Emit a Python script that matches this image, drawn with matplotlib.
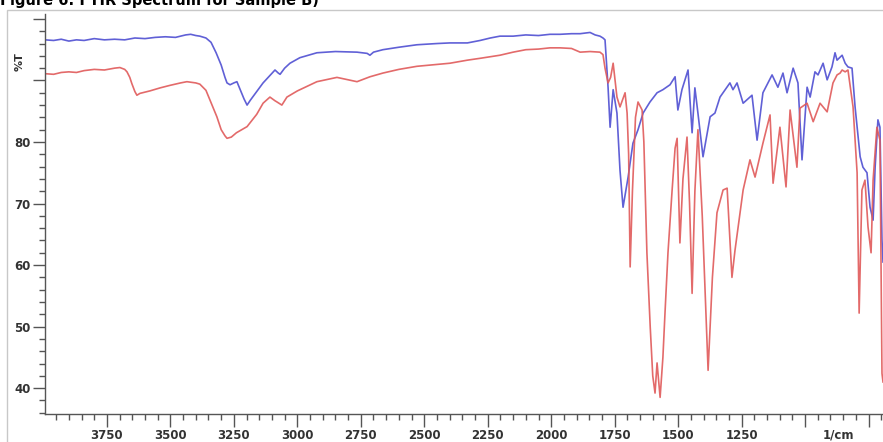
import matplotlib.pyplot as plt
from matplotlib.patches import Rectangle
from matplotlib.ticker import MultipleLocator, FixedLocator, FuncFormatter
import matplotlib.transforms as mtransforms

# blue spectrum (wavenumber 1/cm, %T)
blue_wn = [3994, 3960, 3930, 3900, 3870, 3840, 3800, 3760, 3720, 3680, 3640, 3600,
           3560, 3520, 3480, 3440, 3420, 3400, 3384, 3360, 3340, 3320, 3300, 3285,
           3277, 3265, 3250, 3238, 3225, 3210, 3198, 3185, 3160, 3135, 3108, 3088,
           3075, 3068, 3050, 3029, 2990, 2923, 2850, 2765, 2725, 2714, 2700, 2663,
           2600, 2529, 2450, 2399, 2330, 2280, 2240, 2202, 2150, 2100, 2050, 2005,
           1965, 1920, 1886, 1847, 1827, 1808, 1796, 1788, 1776, 1768, 1756, 1741,
           1729, 1717, 1697, 1678, 1658, 1638, 1611, 1583, 1560, 1532, 1512, 1501,
           1485, 1461, 1445, 1434, 1422, 1402, 1374, 1355, 1335, 1296, 1284, 1268,
           1244, 1209, 1189, 1166, 1130, 1107, 1087, 1071, 1047, 1028, 1012, 992,
           980, 961, 949, 929, 913, 894, 882, 874, 854, 842, 831, 815, 803, 783,
           772, 756, 744, 732, 724, 713, 705, 697, 693]
blue_t = [96.6, 96.5, 96.7, 96.4, 96.6, 96.5, 96.8, 96.6, 96.7, 96.6, 96.9, 96.8,
          97.0, 97.1, 97.0, 97.4, 97.5, 97.3, 97.2, 96.9, 96.2, 94.5, 92.5, 90.5,
          89.6, 89.3, 89.6, 89.8, 88.5, 87.0, 86.0, 86.8, 88.2, 89.6, 90.8, 91.7,
          91.2, 91.0, 92.0, 92.8, 93.7, 94.5, 94.7, 94.6, 94.4, 94.1, 94.6, 95.0,
          95.4, 95.8, 96.0, 96.1, 96.1, 96.5, 96.9, 97.2, 97.2, 97.4, 97.3, 97.5,
          97.5, 97.6, 97.6, 97.8, 97.4, 97.2, 96.9, 96.6, 88.9, 82.4, 88.5, 84.7,
          75.4, 69.4, 74.3, 79.8, 82.0, 84.7, 86.5, 88.0, 88.5, 89.3, 90.6, 85.2,
          88.5, 91.7, 81.5, 88.8, 84.7, 77.6, 84.1, 84.7, 87.3, 89.6, 88.5, 89.6,
          86.3, 87.6, 80.3, 88.0, 90.9, 88.9, 91.2, 88.0, 92.0, 89.6, 77.1, 88.9,
          87.3, 91.4, 90.9, 92.8, 90.1, 92.2, 94.5, 93.3, 94.1, 92.8, 92.2, 92.0,
          85.7, 77.6, 75.9, 75.0, 69.4, 67.3, 75.9, 83.6, 82.4, 64.1, 60.5]

# red spectrum (wavenumber 1/cm, %T)
red_wn = [3994, 3960, 3930, 3900, 3870, 3840, 3800, 3760, 3720, 3699, 3680, 3671,
          3660, 3652, 3640, 3632, 3620, 3581, 3540, 3502, 3460, 3435, 3400, 3384,
          3360, 3344, 3317, 3300, 3285, 3277, 3260, 3240, 3198, 3160, 3135, 3108,
          3088, 3080, 3061, 3041, 3000, 2923, 2844, 2765, 2714, 2663, 2600, 2529,
          2450, 2399, 2330, 2280, 2202, 2150, 2100, 2050, 2005, 1965, 1920, 1886,
          1847, 1808, 1796, 1788, 1776, 1766, 1756, 1741, 1729, 1709, 1701, 1695,
          1689, 1680, 1668, 1658, 1642, 1635, 1623, 1610, 1600, 1591, 1583, 1571,
          1560, 1552, 1540, 1524, 1512, 1504, 1493, 1481, 1465, 1455, 1445, 1434,
          1422, 1405, 1382, 1365, 1347, 1323, 1307, 1288, 1276, 1244, 1217, 1197,
          1166, 1138, 1126, 1099, 1075, 1059, 1032, 1020, 992, 968, 941, 913, 890,
          874, 862, 854, 842, 831, 811, 795, 787, 776, 764, 752, 740, 732, 717,
          705, 697, 693]
red_t = [91.1, 91.0, 91.3, 91.4, 91.3, 91.6, 91.8, 91.7, 92.0, 92.1, 91.8, 91.4,
         90.5, 89.5, 88.2, 87.6, 87.9, 88.3, 88.8, 89.2, 89.6, 89.8, 89.6, 89.4,
         88.4, 86.8, 84.1, 82.0, 81.0, 80.6, 80.8, 81.5, 82.5, 84.5, 86.3, 87.3,
         86.7, 86.5, 86.0, 87.3, 88.3, 89.8, 90.5, 89.8, 90.6, 91.2, 91.8, 92.3,
         92.6, 92.8, 93.3, 93.6, 94.1, 94.6, 95.0, 95.1, 95.3, 95.3, 95.2, 94.6,
         94.7, 94.6, 94.2, 92.0, 89.6, 90.5, 92.8, 87.3, 85.7, 88.0, 84.7, 78.0,
         59.7, 72.0, 84.0, 86.5, 85.2, 80.0, 62.0, 50.0, 42.0, 39.2, 44.1, 38.5,
         45.0, 52.0, 62.0, 72.0, 79.0, 80.6, 63.6, 74.0, 80.8, 70.0, 55.4, 72.0,
         82.0, 68.0, 42.9, 58.0, 68.5, 72.2, 72.5, 58.0, 62.4, 72.2, 77.1, 74.3,
         79.8, 84.4, 73.3, 82.4, 72.7, 85.2, 75.9, 85.5, 86.3, 83.3, 86.3, 84.9,
         89.6, 90.9, 91.2, 91.7, 91.4, 91.7, 85.7, 75.0, 52.2, 72.2, 73.8, 66.2,
         62.0, 73.8, 82.4, 80.3, 42.4, 41.0]

y_major = [40, 50, 60, 70, 80, 90, 100]
x_major = [3750, 3500, 3250, 3000, 2750, 2500, 2250, 2000, 1750, 1500, 1250, 1000, 750]
x_labeled = [3750, 3500, 3250, 3000, 2750, 2500, 2250, 2000, 1750, 1500, 1250]
y_labeled = [40, 50, 60, 70, 80]

fig = plt.figure(figsize=(8.83, 4.42), dpi=100)
W, H = 883, 442

# light outer frame of the original screenshot
fig.add_artist(Rectangle((7 / W, -0.05), 1.0, (442 - 10) / H + 0.05,
                         transform=fig.transFigure, fill=False,
                         edgecolor='#c8c8c8', linewidth=1.0))

# title is cropped at the top edge in the original
fig.text(0.0, 1 - 5 / H, "Figure 6: FTIR Spectrum for Sample B)", fontsize=10.5,
         fontweight='bold', va='baseline', ha='left', color='black')

ax = fig.add_axes([45 / W, (442 - 414) / H, (883 - 45) / W, (414 - 14) / H])
ax.plot(blue_wn, blue_t, color='#4f4fd2', lw=1.2, alpha=0.9)
ax.plot(red_wn, red_t, color='#e05a5a', lw=1.2, alpha=0.9)

ax.set_xlim(3994, 693)
ax.set_ylim(35.8, 100.8)

for s in ['top', 'right']:
    ax.spines[s].set_visible(False)
for s in ['left', 'bottom']:
    ax.spines[s].set_color('#555555')
    ax.spines[s].set_linewidth(1.0)

ax.xaxis.set_major_locator(FixedLocator(x_major))
ax.xaxis.set_minor_locator(MultipleLocator(50))
ax.yaxis.set_major_locator(FixedLocator(y_major))
ax.yaxis.set_minor_locator(MultipleLocator(2))
ax.xaxis.set_major_formatter(FuncFormatter(lambda v, p: f"{int(v)}" if int(v) in x_labeled else ""))
ax.yaxis.set_major_formatter(FuncFormatter(lambda v, p: f"{int(v)}" if int(v) in y_labeled else ""))

ax.tick_params(axis='both', which='major', direction='out', length=9, width=1.0,
               color='#555555', labelsize=8.5, labelcolor='#333333', pad=1.5)
ax.tick_params(axis='both', which='minor', direction='out', length=4, width=1.0,
               color='#555555')
for lab in ax.get_xticklabels() + ax.get_yticklabels():
    lab.set_fontweight('bold')

trans = mtransforms.blended_transform_factory(ax.transData, ax.transAxes)
ax.text(870, -0.036, "1/cm", transform=trans, ha='center', va='top',
        fontsize=8.5, fontweight='bold', color='#333333')

fig.text(20 / W, 1 - 62 / H, "%T", rotation=90, ha='center', va='center',
         fontsize=8, fontweight='bold', color='#333333')

fig.savefig('out.png', dpi=100)
